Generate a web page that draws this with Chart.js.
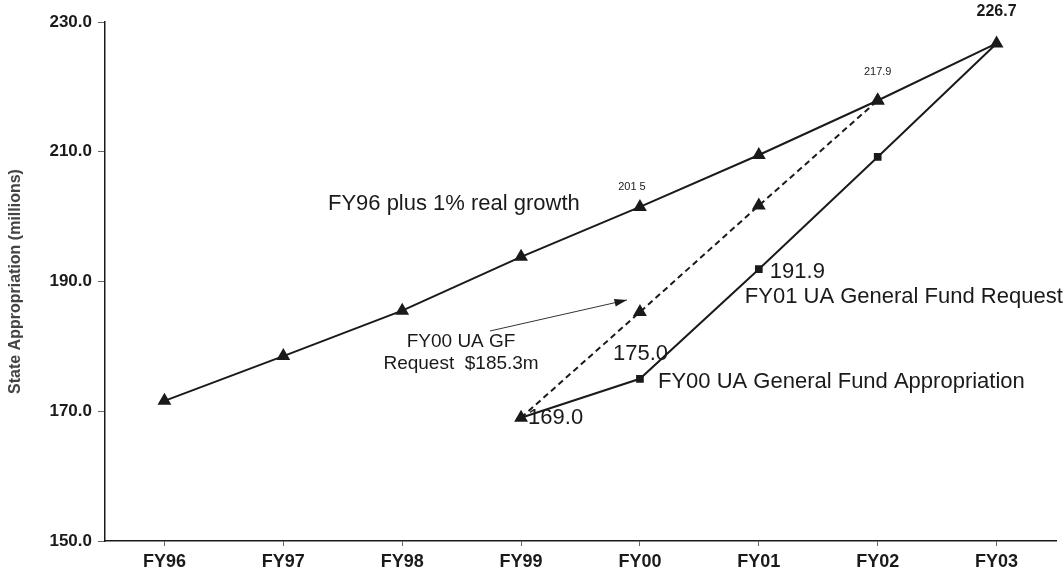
<!DOCTYPE html>
<html>
<head>
<meta charset="utf-8">
<script src="https://cdn.jsdelivr.net/npm/chart.js@4/dist/chart.umd.min.js"></script>
<style>
  html, body { margin: 0; padding: 0; background: #fff; }
  #wrap { width: 1064px; height: 577px; }
</style>
</head>
<body>
<div id="wrap"><canvas id="myChart"></canvas></div>
<script>
// chart data
const years = ["FY96", "FY97", "FY98", "FY99", "FY00", "FY01", "FY02", "FY03"];
const growthValues = [171.6, 178.5, 185.5, 193.8, 201.5, 209.5, 217.9, 226.7];
const requestValues = [null, null, null, 169.0, 185.3, 201.7, 217.9, null];
const appropValues = [null, null, null, 169.0, 175.0, 191.9, 209.2, 226.7];
const yTicks = [150, 170, 190, 210, 230];

const ink = "#1a1a1a";
const font = "'Liberation Sans', Arial, sans-serif";

// text notes, anchored on a data point plus a pixel offset
const notes = [
  { text: "226.7", i: 7, v: 226.7, dx: 0, dy: -32, size: 16, bold: true, align: "center" },
  { text: "217.9", i: 6, v: 217.9, dx: 0, dy: -29, size: 11, align: "center" },
  { text: "201 5", i: 4, v: 201.5, dx: -8, dy: -20, size: 11, align: "center" },
  { text: "FY96 plus 1% real growth", i: 4, v: 201.5, dx: -312, dy: -3, size: 22, align: "left" },
  { text: "191.9", i: 5, v: 191.9, dx: 11, dy: 3, size: 22, align: "left" },
  { text: "FY01 UA General Fund Request", i: 5, v: 191.9, dx: -14, dy: 28, size: 22, align: "left" },
  { text: "175.0", i: 4, v: 175.0, dx: -27, dy: -25, size: 22, align: "left" },
  { text: "FY00 UA General Fund Appropriation", i: 4, v: 175.0, dx: 18, dy: 3, size: 22, align: "left" },
  { text: "169.0", i: 3, v: 169.0, dx: 7, dy: 0, size: 22, align: "left" },
  { text: "FY00 UA GF", i: 3, v: 169.0, dx: -60, dy: -76, size: 19, align: "center" },
  { text: "Request  $185.3m", i: 3, v: 169.0, dx: -60, dy: -54, size: 19, align: "center" }
];

const notesPlugin = {
  id: "notes",
  afterDatasetsDraw(chart) {
    const ctx = chart.ctx;
    const xs = chart.scales.x, ys = chart.scales.y;
    ctx.save();
    ctx.fillStyle = ink;
    ctx.textBaseline = "middle";
    notes.forEach((n) => {
      const x = xs.getPixelForValue(n.i) + n.dx;
      const y = ys.getPixelForValue(n.v) + n.dy;
      ctx.font = (n.bold ? "bold " : "") + n.size + "px " + font;
      ctx.textAlign = n.align;
      ctx.fillText(n.text, x, y);
    });

    // arrow pointing at the FY00 request point
    const px = xs.getPixelForValue(4), py = ys.getPixelForValue(185.3);
    const x0 = px - 150, y0 = py + 19;
    const x1 = px - 13, y1 = py - 12;
    ctx.strokeStyle = "#333";
    ctx.lineWidth = 1;
    ctx.beginPath();
    ctx.moveTo(x0, y0);
    ctx.lineTo(x1, y1);
    ctx.stroke();
    const a = Math.atan2(y1 - y0, x1 - x0);
    ctx.beginPath();
    ctx.moveTo(x1, y1);
    ctx.lineTo(x1 - 13 * Math.cos(a - 0.3), y1 - 13 * Math.sin(a - 0.3));
    ctx.lineTo(x1 - 13 * Math.cos(a + 0.3), y1 - 13 * Math.sin(a + 0.3));
    ctx.closePath();
    ctx.fill();
    ctx.restore();
  }
};

new Chart(document.getElementById("myChart"), {
  type: "line",
  data: {
    labels: years,
    datasets: [
      {
        label: "FY96 plus 1% real growth",
        data: growthValues,
        borderColor: ink,
        backgroundColor: ink,
        borderWidth: 2,
        pointStyle: "triangle",
        pointRadius: 6,
        tension: 0
      },
      {
        label: "FY01 UA General Fund Request",
        data: requestValues,
        borderColor: ink,
        backgroundColor: ink,
        borderWidth: 2,
        borderDash: [6, 4],
        pointStyle: "triangle",
        pointRadius: 6,
        tension: 0
      },
      {
        label: "FY00 UA General Fund Appropriation",
        data: appropValues,
        borderColor: ink,
        backgroundColor: ink,
        borderWidth: 2,
        pointStyle: ["rect", "rect", "rect", "triangle", "rect", "rect", "rect", "triangle"],
        pointRadius: 4,
        tension: 0
      }
    ]
  },
  options: {
    responsive: true,
    maintainAspectRatio: false,
    animation: false,
    layout: { padding: { top: 22, right: 4, left: 0, bottom: 0 } },
    plugins: {
      legend: { display: false },
      tooltip: { enabled: false }
    },
    scales: {
      x: {
        offset: true,
        afterFit(scale) { scale.height = 36; },
        grid: { drawOnChartArea: false, drawTicks: true, tickLength: 5, color: "#666" },
        border: { color: ink, width: 1.5 },
        ticks: {
          color: ink,
          padding: 5,
          font: { family: font, size: 18, weight: "bold" }
        }
      },
      y: {
        min: 150,
        max: 230,
        afterFit(scale) { scale.width = 105; },
        afterBuildTicks(scale) { scale.ticks = yTicks.map((v) => ({ value: v })); },
        grid: { drawOnChartArea: false, drawTicks: true, tickLength: 7, color: "#666" },
        border: { color: ink, width: 1.5 },
        title: {
          display: true,
          text: "State Appropriation (millions)",
          color: "#444",
          padding: { top: 6, bottom: 10 },
          font: { family: font, size: 16, weight: "bold" }
        },
        ticks: {
          color: ink,
          padding: 6,
          font: { family: font, size: 17, weight: "bold" },
          callback: (v) => Number(v).toFixed(1)
        }
      }
    }
  },
  plugins: [notesPlugin]
});
</script>
</body>
</html>
